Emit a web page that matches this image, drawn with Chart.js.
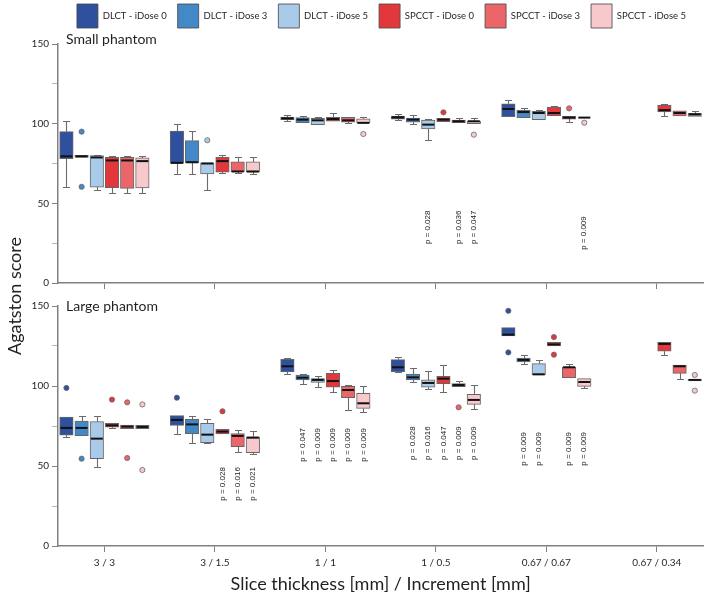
<!DOCTYPE html>
<html>
<head>
<meta charset="utf-8">
<script src="https://cdn.jsdelivr.net/npm/chart.js@4.4.1/dist/chart.umd.min.js"></script>
<style>
  html, body { margin: 0; padding: 0; background: #fff; }
  body { width: 708px; height: 601px; position: relative; overflow: hidden; font-family: Lato, sans-serif; }
  #smallWrap { position: absolute; left: 0; top: -7px; width: 708px; height: 299px; }
  #largeWrap { position: absolute; left: 0; top: 292px; width: 708px; height: 309px; }
  #yTitle { position: absolute; left: 14px; top: 296px; transform: translate(-50%, -50%) rotate(-90deg);
            font: 18px Lato, sans-serif; color: #231f20; white-space: nowrap; }
</style>
</head>
<body>
<div id="smallWrap"><canvas id="smallChart" width="708" height="299"></canvas></div>
<div id="largeWrap"><canvas id="largeChart" width="708" height="309"></canvas></div>
<div id="yTitle">Agatston score</div>
<script>
const categories = ['3 / 3', '3 / 1.5', '1 / 1', '1 / 0.5', '0.67 / 0.67', '0.67 / 0.34'];
const seriesNames = ['DLCT - iDose 0', 'DLCT - iDose 3', 'DLCT - iDose 5', 'SPCCT - iDose 0', 'SPCCT - iDose 3', 'SPCCT - iDose 5'];
const seriesColors = ['#2f4f9f', '#4389c8', '#a9cbe9', '#e2383b', '#ec6569', '#f8c9cc'];
const yTicks = [0, 25, 50, 75, 100, 125, 150];

// box stats per category: [lower whisker, q1, median, q3, upper whisker]
const smallDlct0 = [[60, 78, 79.5, 95, 101.5], [68.1, 75, 75.4, 95.4, 99.6], [101.9, 102.5, 103.3, 104.2, 105.6], [102.3, 102.9, 104, 104.8, 105.8], [104.2, 104.4, 109.2, 112.5, 115], null];
const smallDlct3 = [[78.8, 78.8, 79.5, 80.2, 80.2], [68.5, 75.4, 75.8, 89.4, 95.4], [100.4, 100.6, 102.5, 103.8, 104.8], [100, 101, 102.5, 103.5, 105.4], [103.5, 103.8, 107.3, 108.5, 109.6], null];
const smallDlct5 = [[58.5, 60.2, 78.8, 80, 80.5], [58.5, 68.5, 75, 75.4, 75.4], [99.4, 99.4, 102.1, 103.3, 104], [89.8, 96.7, 99.4, 102.3, 102.7], [102.4, 102.5, 106.7, 107.7, 108.3], null];
const smallSpcct0 = [[56.3, 59.8, 76.9, 78.8, 79.6], [69.2, 69.6, 76.5, 78.8, 80.2], [101.3, 101.5, 102.9, 104, 106.7], [101, 101.3, 102.5, 103.3, 103.5], [104.8, 105, 106.7, 110.4, 111.3], [105, 107.3, 108.5, 111.7, 112.5]];
const smallSpcct3 = [[56.3, 59.4, 76.9, 78.8, 79.6], [69, 69.8, 70, 76, 78.8], [100.2, 101, 102.1, 104, 104.2], [100.6, 100.6, 101.5, 102.3, 103.3], [101, 102.9, 103.8, 104.6, 104.6], [104.8, 104.8, 106.7, 108.1, 108.1]];
const smallSpcct5 = [[56.3, 59.6, 76.5, 78.5, 79.6], [68.5, 69.6, 70, 76, 79.2], [100.2, 100.4, 100.5, 103.1, 104.2], [100, 100, 101.5, 101.7, 103.5], [103.8, 103.8, 103.8, 103.8, 103.8], [104.4, 104.6, 105.8, 106.5, 108.1]];

const largeDlct0 = [[68.1, 69.2, 73.8, 80.6, 80.6], [69.8, 75.4, 78.8, 81.5, 81.5], [107.3, 108.8, 112.3, 116.7, 117.5], [108.5, 109, 111.7, 116.5, 118.3], [131.3, 131.3, 132.1, 136.5, 136.5], null];
const largeDlct3 = [[69, 69, 73.8, 78.1, 81.5], [64.2, 70.2, 76, 79.2, 81.5], [101, 103.8, 105.2, 106.9, 107.5], [102.5, 103.8, 105.4, 107.5, 111], [113.8, 115, 116.3, 117.5, 119.6], null];
const largeDlct5 = [[49.4, 54.6, 67.1, 77.7, 81.5], [64.2, 64.6, 69.6, 76.7, 79.2], [99.4, 102.3, 103.8, 104.6, 106.5], [98.1, 99.2, 101.9, 103.8, 109.2], [106.9, 106.9, 107.3, 114, 116.5], null];
const largeSpcct0 = [[73.5, 74.2, 75.4, 76.7, 76.9], [69.8, 70, 71.5, 72.9, 72.9], [96, 99.2, 103.1, 107.9, 110], [96.5, 101.5, 104.6, 106, 112.9], [125, 125, 126, 127.3, 127.3], [119.2, 121.7, 126.3, 127.3, 127.3]];
const largeSpcct3 = [[73.3, 73.3, 74.6, 75.6, 75.6], [58.5, 62.1, 68.8, 70.2, 72.5], [85, 92.7, 97.5, 99.8, 100.4], [99.6, 99.6, 100.6, 101.5, 102.9], [105.2, 105.2, 111.7, 111.9, 113.5], [104.2, 107.9, 112.3, 113.1, 113.4]];
const largeSpcct5 = [[73.3, 73.3, 74.4, 75.4, 75.4], [57.5, 58.3, 67.7, 68.3, 71.7], [83.5, 86, 89.2, 95.4, 99.8], [85.4, 88.5, 91.3, 94.8, 100.4], [98.5, 99.8, 102.5, 104.6, 104.6], [103.1, 103.1, 103.8, 104.2, 104.2]];

// outliers: [category, series, value]
const smallOutliers = [[0, 1, 95], [0, 1, 60.4], [1, 2, 89.6], [2, 5, 93.5], [3, 3, 107.1], [3, 5, 93.1], [4, 4, 109.6], [4, 5, 100.6]];
const largeOutliers = [[0, 0, 98.8], [0, 1, 54.6], [0, 3, 91.5], [0, 4, 89.8], [0, 4, 55], [0, 5, 88.5], [0, 5, 47.5],
  [1, 0, 92.7], [1, 3, 84.2], [3, 4, 86.7], [4, 0, 147], [4, 0, 121], [4, 3, 130.6], [4, 3, 119.6], [5, 5, 106.9], [5, 5, 97.1]];

// p-values: [category, series, text]
const smallPValues = [[3, 2, 'p = 0.028'], [3, 4, 'p = 0.036'], [3, 5, 'p = 0.047'], [4, 5, 'p = 0.009']];
const largePValues = [[1, 3, 'p = 0.028'], [1, 4, 'p = 0.016'], [1, 5, 'p = 0.021'],
  [2, 1, 'p = 0.047'], [2, 2, 'p = 0.009'], [2, 3, 'p = 0.009'], [2, 4, 'p = 0.009'], [2, 5, 'p = 0.009'],
  [3, 1, 'p = 0.028'], [3, 2, 'p = 0.016'], [3, 3, 'p = 0.047'], [3, 4, 'p = 0.009'], [3, 5, 'p = 0.009'],
  [4, 1, 'p = 0.009'], [4, 2, 'p = 0.009'], [4, 4, 'p = 0.009'], [4, 5, 'p = 0.009']];

const FONT = "Lato, sans-serif";
const INK = '#231f20';
const AXIS = '#808080';
const slot = 0.1375;
const offsets = seriesNames.map((_, s) => (s - 2.5) * slot);

// where the p-value text starts (value on the y axis), per category
const smallPBase = [0, 0, 0, 24.4, 20.8, 0];
const largePBase = [0, 28.3, 52.7, 53.8, 50.2, 0];

// whiskers under the boxes, medians on top
const boxPlot = {
  id: 'boxPlot',
  beforeDatasetsDraw(chart) {
    const { ctx, scales: { x, y } } = chart;
    ctx.save();
    ctx.strokeStyle = '#6b6b6b';
    ctx.lineWidth = 1.1;
    chart.data.datasets.forEach(ds => {
      if (!ds.stats) return;
      ds.stats.forEach((r, i) => {
        const px = Math.round(x.getPixelForValue(ds.data[i].x)) + 0.5;
        [[r[0], r[1]], [r[4], r[3]]].forEach(([end, edge]) => {
          if (Math.abs(end - edge) < 0.3) return;
          const pe = Math.round(y.getPixelForValue(end)) + 0.5;
          const pb = y.getPixelForValue(edge);
          ctx.beginPath();
          ctx.moveTo(px, pb);
          ctx.lineTo(px, pe);
          ctx.moveTo(px - 3.5, pe);
          ctx.lineTo(px + 3.5, pe);
          ctx.stroke();
        });
      });
    });
    ctx.restore();
  },
  afterDatasetsDraw(chart) {
    const { ctx, scales: { x, y } } = chart;
    ctx.save();
    ctx.strokeStyle = '#111';
    ctx.lineWidth = 2;
    chart.data.datasets.forEach(ds => {
      if (!ds.stats) return;
      ds.stats.forEach((r, i) => {
        const px = x.getPixelForValue(ds.data[i].x);
        const py = y.getPixelForValue(r[2]);
        ctx.beginPath();
        ctx.moveTo(px - 6, py);
        ctx.lineTo(px + 6, py);
        ctx.stroke();
      });
    });
    ctx.restore();
  }
};

const annotate = {
  id: 'annotate',
  afterDraw(chart, args, opts) {
    const { ctx, chartArea, scales: { x, y } } = chart;
    ctx.save();
    ctx.fillStyle = INK;
    ctx.font = '14px ' + FONT;
    ctx.textBaseline = 'alphabetic';
    ctx.fillText(opts.title, chartArea.left + 8, chartArea.top + opts.titleDrop);
    ctx.font = '8px "Liberation Sans", Arial, sans-serif';
    ctx.fillStyle = '#222';
    ctx.textAlign = 'left';
    ctx.textBaseline = 'middle';
    opts.pValues.forEach(([c, s, t]) => {
      const px = x.getPixelForValue(c + offsets[s]);
      const py = y.getPixelForValue(opts.pBase[c]);
      ctx.save();
      ctx.translate(px, py);
      ctx.rotate(-Math.PI / 2);
      ctx.fillText(t, 0, 0);
      ctx.restore();
    });
    ctx.restore();
  }
};

// a few px more room under the legend, and the whole row a bit to the right
const legendNudge = {
  id: 'legendNudge',
  beforeInit(chart) {
    const lg = chart.legend;
    if (!lg) return;
    const fit = lg.fit;
    lg.fit = function () {
      fit.call(this);
      if (this.options.display) this.height += 6;
    };
  },
  afterLayout(chart) {
    const lg = chart.legend;
    if (lg && lg.options.display) {
      lg.left += 12.5;
      lg.right += 12.5;
    }
  }
};

function makePanel(id, stats, outliers, pValues, pBase, title, titleDrop, isTop) {
  const datasets = stats.map((rows, s) => ({
    type: 'bar',
    label: seriesNames[s],
    data: rows.map((r, i) => r ? { x: i + offsets[s], y: [r[1], r[3]] } : null).filter(Boolean),
    stats: rows.filter(Boolean),
    backgroundColor: seriesColors[s],
    borderColor: 'rgba(75,75,75,0.85)',
    borderWidth: 1,
    borderSkipped: false,
    barThickness: 13.5,
    grouped: false
  }));
  datasets.push({
    type: 'scatter',
    label: 'outliers',
    data: outliers.map(o => ({ x: o[0] + offsets[o[1]], y: o[2] })),
    backgroundColor: outliers.map(o => seriesColors[o[1]]),
    borderColor: '#6a6a6a',
    borderWidth: 0.8,
    pointRadius: 2.6
  });

  return new Chart(document.getElementById(id), {
    type: 'bar',
    data: { datasets },
    plugins: [boxPlot, annotate, legendNudge],
    options: {
      responsive: false,
      animation: false,
      devicePixelRatio: 1,
      layout: { padding: { left: 30, right: 0, top: isTop ? 0 : 14, bottom: 0 } },
      plugins: {
        tooltip: { enabled: false },
        legend: {
          display: isTop,
          labels: {
            boxWidth: 21, boxHeight: 24, padding: 11, color: INK,
            font: { family: FONT, size: 9.5 },
            filter: item => item.datasetIndex < 6
          }
        },
        annotate: { title, titleDrop, pValues, pBase }
      },
      scales: {
        x: {
          type: 'linear', min: -0.42, max: 5.42, offset: false,
          afterBuildTicks: s => { s.ticks = categories.map((_, i) => ({ value: i })); },
          ticks: {
            autoSkip: false, maxRotation: 0, padding: 5, color: INK,
            font: { family: FONT, size: 10 },
            callback: v => isTop ? '' : categories[v]
          },
          grid: { offset: false, drawOnChartArea: false, tickLength: 6, color: AXIS },
          border: { color: AXIS, width: 1.5 },
          title: {
            display: !isTop, text: 'Slice thickness [mm] / Increment [mm]', color: INK,
            font: { family: FONT, size: 18 }, padding: { top: 0, bottom: 6 }
          },
          afterFit: s => { s.height = isTop ? 8 : 55; }
        },
        y: {
          min: 0, max: 150,
          afterBuildTicks: s => { s.ticks = yTicks.map(v => ({ value: v })); },
          ticks: {
            padding: 3, color: INK, font: { family: FONT, size: 10 },
            callback: v => v % 50 === 0 ? v : ''
          },
          grid: {
            drawOnChartArea: false, tickLength: 6,
            color: c => (c.tick && c.tick.value % 50) ? '#b5b5b5' : AXIS
          },
          border: { color: AXIS, width: 1.5 },
          afterFit: s => { s.width = 28; }
        }
      }
    }
  });
}

makePanel('smallChart', [smallDlct0, smallDlct3, smallDlct5, smallSpcct0, smallSpcct3, smallSpcct5],
  smallOutliers, smallPValues, smallPBase, 'Small phantom', 0, true);
makePanel('largeChart', [largeDlct0, largeDlct3, largeDlct5, largeSpcct0, largeSpcct3, largeSpcct5],
  largeOutliers, largePValues, largePBase, 'Large phantom', 4.5, false);
</script>
</body>
</html>
